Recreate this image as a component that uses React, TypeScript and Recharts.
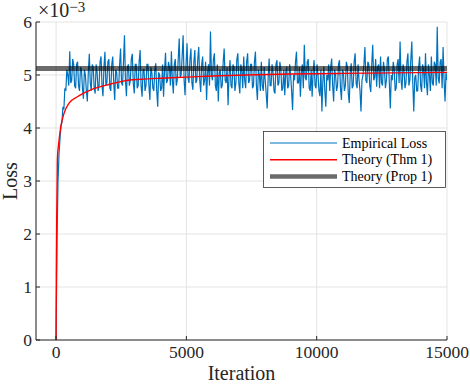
import React from 'react';
import { LineChart, Line, XAxis, YAxis, CartesianGrid, Legend, Label } from 'recharts';

// ---------- data ----------
const X_DOMAIN: [number, number] = [-770, 15000];
const X_TICKS = [0, 5000, 10000, 15000];
const Y_DOMAIN: [number, number] = [0, 6];
const Y_TICKS = [0, 1, 2, 3, 4, 5, 6];
const SERIES_NAMES = ['Empirical Loss', 'Theory (Thm 1)', 'Theory (Prop 1)'];

// Empirical loss (units of 1e-3), sampled every EMP_STEP iterations
const EMP_STEP = 37.5;
const EMPIRICAL_LOSS = [
  0, 1.9, 3.0, 3.5, 3.8, 4.05, 4.1, 4.4, 4.35, 4.75, 4.7, 5.1, 5.0, 4.8, 5.45, 4.85, 4.9, 5.3, 5.2, 4.8,
  4.75, 5.2, 5.25, 4.8, 4.7, 5.15, 5.1, 4.75, 4.55, 5.1, 5.0, 4.7, 4.5, 5.05, 5.4, 4.85, 4.7, 5.2, 5.15, 4.75,
  4.65, 5.2, 5.05, 4.7, 4.8, 5.25, 5.35, 4.8, 4.6, 5.15, 5.44, 4.8, 4.85, 5.25, 5.3, 4.75, 4.7, 5.2, 5.35, 4.85,
  4.53, 5.1, 5.05, 4.75, 4.75, 5.2, 5.5, 4.85, 4.8, 5.25, 5.75, 4.9, 4.6, 5.15, 5.2, 4.8, 4.9, 5.3, 5.4, 4.85,
  4.65, 5.2, 5.2, 4.75, 4.8, 5.25, 5.47, 4.8, 4.59, 5.1, 5.1, 4.7, 4.8, 5.2, 5.2, 4.8, 4.53, 5.15, 5.05, 4.75,
  4.7, 5.1, 5.22, 4.7, 4.4, 5.05, 5.0, 4.7, 4.75, 5.2, 4.59, 5.1, 5.42, 4.85, 4.9, 5.25, 5.15, 4.8, 5.45, 4.9,
  4.65, 5.2, 5.3, 4.8, 4.9, 5.3, 5.69, 4.95, 5.0, 5.35, 5.75, 4.9, 4.62, 5.2, 5.6, 4.95, 4.85, 5.3, 5.5, 4.85,
  4.72, 5.25, 5.47, 4.85, 4.9, 5.3, 5.53, 4.9, 4.68, 5.2, 5.35, 4.8, 4.9, 5.25, 4.53, 5.05, 5.2, 4.8, 5.82, 5.0,
  4.9, 5.3, 5.41, 4.8, 4.7, 5.2, 4.5, 5.05, 5.1, 4.75, 4.8, 5.25, 5.5, 4.9, 4.85, 5.15, 4.43, 5.0, 5.28, 4.8,
  4.75, 5.2, 5.15, 4.7, 4.85, 5.3, 5.41, 4.85, 4.65, 5.2, 5.1, 4.75, 5.35, 4.9, 4.75, 5.25, 5.41, 4.85, 4.9, 5.2,
  5.2, 4.75, 4.8, 5.25, 5.44, 4.8, 4.53, 5.1, 5.0, 4.7, 5.25, 4.8, 4.7, 5.15, 4.9, 4.65, 4.37, 4.95, 5.31, 4.8,
  4.8, 5.2, 5.05, 4.7, 4.65, 5.2, 5.28, 4.8, 4.85, 5.25, 5.1, 4.7, 4.75, 5.1, 4.62, 5.05, 5.16, 4.75, 4.8, 5.2,
  5.0, 4.7, 4.34, 5.0, 4.9, 5.25, 5.44, 4.85, 4.85, 5.15, 4.59, 5.05, 5.2, 4.75, 5.57, 4.95, 4.9, 5.25, 5.3, 4.75,
  4.7, 5.1, 4.59, 5.05, 5.28, 4.8, 4.75, 5.2, 5.0, 4.7, 4.6, 5.1, 4.31, 4.9, 5.16, 4.7, 4.4, 5.0, 4.9, 5.2,
  4.7, 5.15, 5.31, 4.8, 4.5, 5.1, 5.0, 4.7, 4.8, 5.2, 5.28, 4.75, 4.53, 5.1, 5.05, 4.7, 4.8, 5.25, 5.16, 4.65,
  4.47, 5.05, 5.22, 4.75, 4.8, 5.25, 5.41, 4.85, 4.75, 5.2, 4.9, 4.7, 4.31, 4.9, 5.0, 5.2, 5.53, 4.9, 4.85, 5.25,
  5.2, 4.8, 4.68, 5.2, 5.57, 4.9, 4.95, 5.3, 4.78, 5.15, 5.2, 4.75, 5.35, 4.85, 4.8, 5.25, 5.1, 4.75, 4.9, 5.3,
  5.35, 4.85, 4.37, 5.0, 4.9, 5.25, 5.1, 4.7, 4.75, 5.2, 5.3, 4.85, 5.63, 4.9, 4.72, 5.2, 5.1, 4.75, 4.85, 5.25,
  5.41, 4.8, 4.9, 5.3, 5.63, 4.85, 4.31, 4.95, 5.0, 4.7, 4.7, 5.15, 5.35, 4.8, 4.68, 5.2, 5.1, 4.75, 5.41, 4.85,
  4.62, 5.2, 5.0, 4.7, 5.35, 4.85, 4.8, 5.25, 5.2, 4.8, 5.91, 4.95, 4.84, 5.25, 5.3, 4.75, 5.53, 4.9, 4.5, 5.05,
  4.9,
];

// Theory (Thm 1)
const THM_ITER = [0, 10, 25, 50, 115, 181, 308, 500, 819, 1335, 2104, 2615, 3270, 4000, 5000, 6000, 7270, 9000, 11000, 13000, 15000];
const THM_LOSS = [0, 1.2, 2.3, 3.4, 3.77, 4.02, 4.28, 4.47, 4.59, 4.72, 4.83, 4.89, 4.92, 4.94, 4.96, 4.98, 5.0, 5.02, 5.03, 5.04, 5.05];

// Theory (Prop 1)
const PROP_LOSS = 5.125;

// Axis exponent label
const Y_EXPONENT = '−3';

const empiricalData = EMPIRICAL_LOSS.map((v, i) => ({ iter: i * EMP_STEP, v }));
const thmData = THM_ITER.map((t, i) => ({ iter: t, v: THM_LOSS[i] }));
const propData = X_DOMAIN.map((t) => ({ iter: t, v: PROP_LOSS }));

// ---------- style ----------
const FONT = 'Liberation Serif, DejaVu Serif, serif';
const AX = '#262626';
const TICK_FS = 17.5;
const LABEL_FS = 20;
const TM_X = 6;
const TM_Y = 4;
const TL = 4;

const BottomTick = (p: any) => (
  <g>
    <line x1={p.x} x2={p.x} y1={p.y - TM_X} y2={p.y - TM_X - TL} stroke={AX} />
    <text x={p.x} y={p.y} dy="0.71em" textAnchor="middle" fill={AX} fontFamily={FONT} fontSize={TICK_FS}>
      {p.payload.value}
    </text>
  </g>
);
const TopTick = (p: any) => (
  <line x1={p.x} x2={p.x} y1={p.y} y2={p.y + TL} stroke={AX} />
);
const LeftTick = (p: any) => (
  <g>
    <line x1={p.x + TM_Y} x2={p.x + TM_Y + TL} y1={p.y} y2={p.y} stroke={AX} />
    <text x={p.x} y={p.y} dy="0.355em" textAnchor="end" fill={AX} fontFamily={FONT} fontSize={TICK_FS}>
      {p.payload.value}
    </text>
  </g>
);
const RightTick = (p: any) => (
  <line x1={p.x} x2={p.x - TL} y1={p.y} y2={p.y} stroke={AX} />
);

const LEGEND_STYLE: Record<string, { w: number; op: number }> = {
  'Empirical Loss': { w: 1.2, op: 1 },
  'Theory (Thm 1)': { w: 1.4, op: 1 },
  'Theory (Prop 1)': { w: 4.5, op: 0.58 },
};

const LegendBox = (props: any) => {
  const items = [...(props.payload || [])].sort(
    (a: any, b: any) => SERIES_NAMES.indexOf(a.value) - SERIES_NAMES.indexOf(b.value)
  );
  return (
    <svg width={184} height={58} style={{ display: 'block' }}>
      <rect x={0.5} y={0.5} width={182} height={56} fill="#fff" stroke="#333" strokeWidth={0.8} />
      {items.map((it: any, i: number) => {
        const cy = 12 + i * 16.7;
        const st = LEGEND_STYLE[it.value] || { w: 1, op: 1 };
        return (
          <g key={it.value}>
            <line x1={7} x2={74} y1={cy} y2={cy} stroke={it.color} strokeWidth={st.w} strokeOpacity={st.op} />
            <text x={79} y={cy} dy="0.33em" fontFamily={FONT} fontSize={14} fill="#000">
              {it.value}
            </text>
          </g>
        );
      })}
    </svg>
  );
};

export default function App() {
  return (
    <div style={{ position: 'absolute', left: 0, top: 0, width: 470, height: 384, background: '#fff' }}>
      <LineChart width={470} height={384} margin={{ top: 22, right: 23, bottom: 0, left: 0 }}>
        <CartesianGrid stroke="#e3e3e3" strokeWidth={1} />
        <XAxis
          xAxisId={0}
          dataKey="iter"
          type="number"
          domain={X_DOMAIN}
          ticks={X_TICKS}
          allowDataOverflow
          height={44}
          tickSize={0}
          tickMargin={TM_X}
          tickLine={false}
          axisLine={{ stroke: AX }}
          tick={BottomTick}
        >
          <Label
            content={(p: any) => {
              const vb = p.viewBox;
              return (
                <text x={vb.x + vb.width / 2} y={vb.y + 40} textAnchor="middle" fontFamily={FONT} fontSize={LABEL_FS} fill={AX}>
                  Iteration
                </text>
              );
            }}
          />
        </XAxis>
        <XAxis
          xAxisId="top"
          orientation="top"
          dataKey="iter"
          type="number"
          domain={X_DOMAIN}
          ticks={X_TICKS}
          allowDataOverflow
          height={0}
          tickSize={0}
          tickMargin={0}
          tickLine={false}
          axisLine={{ stroke: AX }}
          tick={TopTick}
        />
        <YAxis
          yAxisId={0}
          type="number"
          domain={Y_DOMAIN}
          ticks={Y_TICKS}
          allowDataOverflow
          width={36}
          tickSize={0}
          tickMargin={TM_Y}
          tickLine={false}
          axisLine={{ stroke: AX }}
          tick={LeftTick}
        >
          <Label
            content={(p: any) => {
              const vb = p.viewBox;
              const cx = 17;
              const cy = vb.y + vb.height / 2;
              const ex = vb.x + vb.width + 2;
              const ey = vb.y - 5;
              return (
                <g>
                  <text x={cx} y={cy} transform={`rotate(-90, ${cx}, ${cy})`} textAnchor="middle" fontFamily={FONT} fontSize={LABEL_FS} fill={AX}>
                    Loss
                  </text>
                  <text x={ex} y={ey} fontFamily={FONT} fontSize={20} style={{ fontSize: 20 }} fill={AX}>
                    ×10
                    <tspan dy={-5.5} fontSize={15} style={{ fontSize: 15 }}>
                      {Y_EXPONENT}
                    </tspan>
                  </text>
                </g>
              );
            }}
          />
        </YAxis>
        <YAxis
          yAxisId="right"
          orientation="right"
          type="number"
          domain={Y_DOMAIN}
          ticks={Y_TICKS}
          allowDataOverflow
          width={0}
          tickSize={0}
          tickMargin={0}
          tickLine={false}
          axisLine={{ stroke: AX }}
          tick={RightTick}
        />
        <Line
          data={empiricalData}
          dataKey="v"
          name="Empirical Loss"
          type="linear"
          stroke="#0072BD"
          strokeWidth={1.2}
          dot={false}
          isAnimationActive={false}
        />
        <Line
          data={thmData}
          dataKey="v"
          name="Theory (Thm 1)"
          type="monotone"
          stroke="#FF0000"
          strokeWidth={1.4}
          dot={false}
          isAnimationActive={false}
        />
        <Line
          data={propData}
          dataKey="v"
          name="Theory (Prop 1)"
          type="linear"
          stroke="#000000"
          strokeOpacity={0.58}
          strokeWidth={5}
          strokeLinecap="butt"
          dot={false}
          isAnimationActive={false}
        />
        <Legend
          layout="vertical"
          align="center"
          verticalAlign="middle"
          content={LegendBox}
          wrapperStyle={{ left: 263, top: 131, width: 184, height: 58, right: 'auto', bottom: 'auto' }}
        />
      </LineChart>
    </div>
  );
}
